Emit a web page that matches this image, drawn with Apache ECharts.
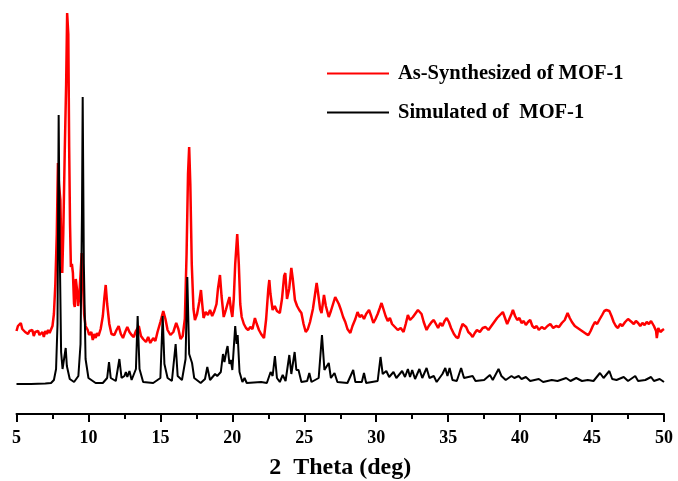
<!DOCTYPE html>
<html>
<head>
<meta charset="utf-8">
<script src="https://cdn.jsdelivr.net/npm/echarts@6/dist/echarts.min.js"></script>
<style>html,body{margin:0;padding:0;background:#fff}#c{width:678px;height:481px}</style>
</head>
<body>
<div id="c"></div>
<script>
const seriesNames = ['As-Synthesized of MOF-1', 'Simulated of  MOF-1'];
const xTicks = [5, 10, 15, 20, 25, 30, 35, 40, 45, 50];

const simulated = [[5.0,30],[6.0,30],[7.0,30.5],[7.4,31],[7.6,34],[7.75,45],[7.85,90],[7.93,299],[8.0,170],[8.1,62],[8.2,45],[8.3,44],[8.42,66],[8.5,48],[8.7,35],[9.0,32],[9.3,38],[9.45,70],[9.55,200],[9.6,317],[9.68,150],[9.8,55],[10.0,36],[10.5,31],[11.0,31],[11.3,36],[11.43,52],[11.55,36],[11.9,33],[12.15,55],[12.3,36],[12.5,38],[12.6,42],[12.7,37],[12.85,43],[13.0,34],[13.3,45],[13.42,98],[13.55,45],[13.8,32],[14.5,31],[15.0,36],[15.16,98],[15.28,50],[15.35,51],[15.5,36],[15.8,33],[16.06,70],[16.2,38],[16.5,34],[16.75,55],[16.87,137],[17.0,60],[17.2,51],[17.35,36],[17.8,31],[18.1,35],[18.26,47],[18.45,34],[18.8,40],[18.95,38],[19.2,42],[19.35,60],[19.45,52],[19.6,64],[19.67,68],[19.8,50],[19.9,54],[20.0,44],[20.2,88],[20.3,70],[20.37,79],[20.5,42],[20.7,32],[20.85,36],[21.0,31],[22.0,32],[22.4,31],[22.66,42],[22.8,38],[22.96,58],[23.1,36],[23.3,32],[23.5,39],[23.7,33],[23.96,59],[24.1,40],[24.33,62],[24.45,44],[24.6,44],[24.8,32],[25.2,33],[25.35,41],[25.5,32],[26.0,36],[26.23,79],[26.4,44],[26.7,51],[26.85,36],[27.1,41],[27.3,32],[28.0,31],[28.4,44],[28.55,32],[29.0,32],[29.15,41],[29.3,31],[30.1,33],[30.3,57],[30.45,40],[30.7,43],[30.9,37],[31.2,42],[31.4,36],[31.8,43],[32.0,37],[32.2,45],[32.35,37],[32.5,44],[32.7,35],[33.0,45],[33.2,36],[33.5,46],[33.7,36],[34.0,38],[34.2,32],[34.6,40],[34.8,46],[34.95,38],[35.1,46],[35.3,34],[35.6,33],[35.9,46],[36.1,36],[36.4,37],[36.7,38],[36.9,33],[37.5,34],[37.9,39],[38.1,34],[38.5,45],[38.7,38],[39.0,34],[39.4,38],[39.6,36],[39.9,38],[40.1,35],[40.4,37],[40.7,33],[41.3,35],[41.6,32],[42.2,34],[42.6,33],[43.2,36],[43.5,33],[43.9,36],[44.3,33],[44.7,34],[45.1,33],[45.55,41],[45.8,36],[46.2,43],[46.4,35],[46.7,34],[47.2,37],[47.5,33],[48.0,38],[48.2,33],[48.7,34],[49.1,37],[49.3,33],[49.7,35],[50.0,32]];

const synthesized = [[5.0,83],[5.1,88],[5.2,86],[5.3,91],[5.4,85],[5.5,87],[5.6,82],[5.7,84],[5.8,80],[5.9,83],[6.0,81],[6.1,84],[6.2,78],[6.3,82],[6.4,80],[6.5,83],[6.6,79],[6.8,82],[6.9,77],[7.0,83],[7.1,80],[7.2,84],[7.3,81],[7.4,83],[7.5,88],[7.6,100],[7.7,130],[7.8,180],[7.88,251],[7.95,230],[8.05,214],[8.12,160],[8.18,141],[8.25,180],[8.35,260],[8.45,330],[8.52,401],[8.6,380],[8.66,267],[8.72,190],[8.78,147],[8.85,150],[8.92,141],[9.0,110],[9.05,107],[9.12,135],[9.2,125],[9.28,108],[9.35,115],[9.45,140],[9.53,161],[9.6,140],[9.7,100],[9.8,88],[9.95,84],[10.05,79],[10.2,82],[10.3,74],[10.4,80],[10.5,76],[10.6,81],[10.7,78],[10.85,85],[11.0,98],[11.1,115],[11.2,129],[11.3,110],[11.45,90],[11.6,80],[11.8,79],[11.95,84],[12.1,88],[12.25,80],[12.4,76],[12.55,82],[12.7,87],[12.85,82],[13.0,79],[13.15,77],[13.3,83],[13.5,88],[13.65,78],[13.8,75],[14.0,72],[14.15,77],[14.3,71],[14.5,76],[14.65,73],[14.8,82],[15.0,92],[15.2,103],[15.35,95],[15.5,84],[15.7,79],[15.9,82],[16.1,91],[16.25,85],[16.4,75],[16.55,78],[16.7,95],[16.82,160],[16.92,240],[17.0,267],[17.08,230],[17.18,150],[17.3,105],[17.4,94],[17.55,100],[17.7,112],[17.82,124],[17.92,108],[18.0,96],[18.15,102],[18.3,99],[18.45,104],[18.6,98],[18.75,103],[18.9,110],[19.0,125],[19.14,139],[19.25,118],[19.4,97],[19.55,104],[19.7,112],[19.8,117],[19.9,105],[20.0,97],[20.1,115],[20.2,150],[20.34,180],[20.45,150],[20.55,110],[20.65,97],[20.8,90],[20.95,86],[21.1,84],[21.25,87],[21.4,85],[21.57,96],[21.7,90],[21.85,84],[22.0,80],[22.2,76],[22.35,95],[22.5,125],[22.57,134],[22.65,120],[22.8,104],[22.95,108],[23.1,103],[23.3,101],[23.45,115],[23.6,138],[23.68,141],[23.8,115],[23.95,125],[24.1,146],[24.2,135],[24.35,114],[24.5,108],[24.65,104],[24.8,101],[24.95,90],[25.1,82],[25.25,85],[25.4,92],[25.6,105],[25.75,120],[25.86,131],[25.95,122],[26.1,105],[26.2,101],[26.37,119],[26.5,108],[26.7,97],[26.85,103],[27.0,110],[27.15,117],[27.25,119],[27.4,110],[27.55,104],[27.7,97],[27.85,92],[28.0,85],[28.2,81],[28.35,88],[28.55,95],[28.7,102],[28.85,97],[29.0,99],[29.15,95],[29.3,100],[29.5,104],[29.65,98],[29.8,91],[29.95,95],[30.1,100],[30.25,106],[30.37,111],[30.5,105],[30.65,98],[30.8,93],[30.95,96],[31.1,90],[31.3,87],[31.5,84],[31.7,86],[31.9,82],[32.05,90],[32.2,99],[32.35,94],[32.55,97],[32.75,101],[32.9,104],[33.0,106],[33.15,100],[33.3,92],[33.5,84],[33.65,88],[33.85,92],[34.0,94],[34.15,90],[34.3,86],[34.45,91],[34.6,88],[34.75,93],[34.9,96],[35.05,92],[35.2,86],[35.4,80],[35.55,77],[35.7,76],[35.85,84],[36.0,90],[36.1,92],[36.25,87],[36.4,82],[36.55,80],[36.7,77],[36.85,81],[37.0,84],[37.2,82],[37.4,86],[37.6,87],[37.8,84],[38.0,88],[38.2,92],[38.4,96],[38.6,99],[38.8,102],[38.95,96],[39.1,90],[39.25,95],[39.4,100],[39.5,104],[39.65,98],[39.8,94],[39.95,96],[40.1,91],[40.25,93],[40.4,89],[40.55,92],[40.7,94],[40.85,88],[41.0,86],[41.15,88],[41.3,84],[41.5,87],[41.7,85],[41.9,88],[42.1,90],[42.3,86],[42.5,88],[42.7,87],[42.9,91],[43.1,94],[43.3,101],[43.45,96],[43.6,92],[43.8,88],[44.0,86],[44.2,84],[44.4,82],[44.6,80],[44.75,79],[44.9,83],[45.05,88],[45.2,92],[45.35,90],[45.5,94],[45.7,99],[45.85,103],[46.0,104],[46.1,106],[46.2,103],[46.35,98],[46.5,92],[46.65,88],[46.8,86],[46.95,90],[47.1,88],[47.3,92],[47.5,95],[47.6,97],[47.75,92],[47.9,90],[48.05,93],[48.2,91],[48.35,88],[48.5,91],[48.65,89],[48.8,92],[48.95,90],[49.1,93],[49.2,94],[49.3,88],[49.45,83],[49.5,76],[49.6,86],[49.75,82],[49.9,84],[50.0,85]];

const chart = echarts.init(document.getElementById('c'), null, {renderer: 'canvas'});
const serif = '"Liberation Serif", "Times New Roman", serif';
chart.setOption({
  animation: false,
  backgroundColor: '#ffffff',
  grid: {left: 16.5, right: 14, top: 10, bottom: 67, containLabel: false, outerBoundsMode: 'none'},
  legend: {
    orient: 'vertical',
    left: 322,
    top: 58,
    itemWidth: 62,
    itemHeight: 2,
    itemGap: 18,
    icon: 'rect',
    data: seriesNames,
    textStyle: {fontFamily: serif, fontWeight: 'bold', fontSize: 20.5, color: '#000', padding: [0, 0, 0, 4], lineHeight: 20}
  },
  xAxis: {
    type: 'value',
    min: xTicks[0],
    max: xTicks[xTicks.length - 1],
    interval: 5,
    name: '2  Theta (deg)',
    nameLocation: 'middle',
    nameGap: 42,
    nameTextStyle: {fontFamily: serif, fontWeight: 'bold', fontSize: 24, color: '#000'},
    axisLine: {show: true, onZero: false, lineStyle: {color: '#000', width: 2}},
    axisTick: {show: true, inside: false, length: 8, lineStyle: {color: '#000', width: 2}},
    minorTick: {show: true, splitNumber: 2, length: 5, lineStyle: {color: '#000', width: 2}},
    splitLine: {show: false},
    axisLabel: {fontFamily: serif, fontWeight: 'bold', fontSize: 18, color: '#000', margin: 15, showMinLabel: true, showMaxLabel: true}
  },
  yAxis: {
    type: 'value', min: 0, max: 404, show: false, splitLine: {show: false}
  },
  series: [
    {name: seriesNames[0], type: 'line', data: synthesized, showSymbol: false, symbol: 'none', lineStyle: {color: '#ff0000', width: 2.5}, itemStyle: {color: '#ff0000'}},
    {name: seriesNames[1], type: 'line', data: simulated, showSymbol: false, symbol: 'none', lineStyle: {color: '#000000', width: 2}, itemStyle: {color: '#000000'}}
  ]
});
</script>
</body>
</html>
